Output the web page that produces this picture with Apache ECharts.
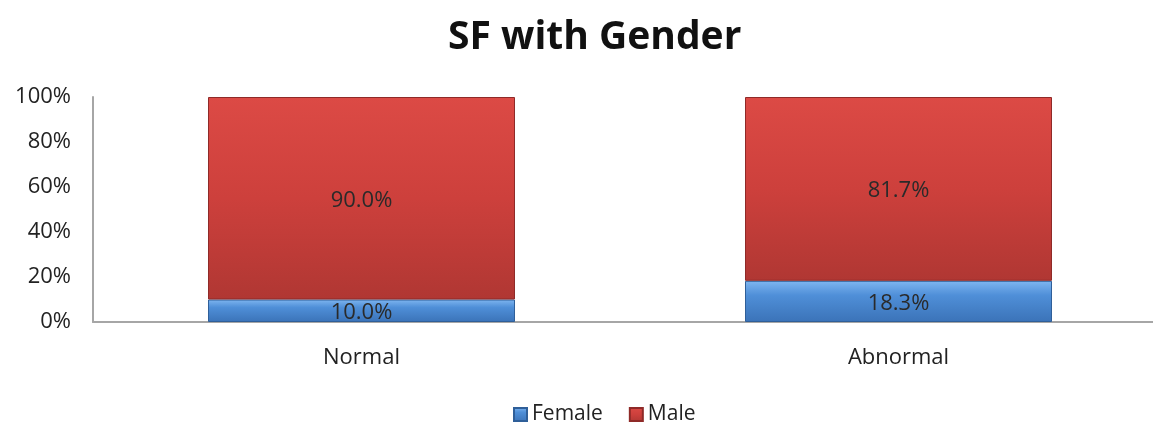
<!DOCTYPE html>
<html>
<head>
<meta charset="utf-8">
<script src="https://cdn.jsdelivr.net/npm/echarts@6/dist/echarts.min.js"></script>
<style>
  html, body { margin: 0; padding: 0; background: #fff; overflow: hidden; }
  /* 原图右侧被裁掉一截：画布比窗口宽一些 */
  #chart { width: 1167px; height: 423px; }
</style>
</head>
<body>
<div id="chart"></div>
<script>
// 数据
const categories = ["Normal", "Abnormal"];
const femaleValues = [10.0, 18.3];
const maleValues = [90.0, 81.7];
const yTicks = [0, 20, 40, 60, 80, 100];

const FONT = "'Open Sans', 'Noto Sans', sans-serif";

const chart = echarts.init(document.getElementById("chart"));

// 模拟 Excel 的立体斜面效果
const blueFill = new echarts.graphic.LinearGradient(0, 0, 0, 1, [
  { offset: 0, color: "#7fb6f0" },
  { offset: 0.35, color: "#4f8fd8" },
  { offset: 1, color: "#3b73b8" },
]);
const redFill = new echarts.graphic.LinearGradient(0, 0, 0, 1, [
  { offset: 0, color: "#dc4a45" },
  { offset: 0.5, color: "#cd403c" },
  { offset: 1, color: "#b03733" },
]);

const labelStyle = {
  show: true,
  position: "inside",
  color: "#2a2a2a",
  fontFamily: FONT,
  fontSize: 22,
  offset: [0, 2],
  formatter: (p) => p.value.toFixed(1) + "%",
};

chart.setOption({
  backgroundColor: "#fff",
  animation: false,
  title: {
    text: "SF with Gender",
    left: 443,
    top: 13,
    textStyle: { fontFamily: FONT, fontWeight: "bold", fontSize: 39, color: "#111" },
  },
  legend: {
    top: 399,
    left: 508,
    itemWidth: 13,
    itemHeight: 13,
    itemGap: 26,
    icon: "rect",
    textStyle: { fontFamily: FONT, fontSize: 21, color: "#222" },
    data: ["Female", "Male"],
  },
  grid: { left: 93, right: 0, top: 97, bottom: 101 },
  xAxis: {
    type: "category",
    data: categories,
    axisLine: { lineStyle: { color: "#a6a6a6", width: 2 } },
    axisTick: { show: false },
    axisLabel: { fontFamily: FONT, fontSize: 22, color: "#222", margin: 25 },
  },
  yAxis: {
    type: "value",
    min: yTicks[0],
    max: yTicks[yTicks.length - 1],
    interval: 20,
    splitLine: { show: false },
    axisLine: { show: true, lineStyle: { color: "#a6a6a6", width: 2 } },
    axisTick: { show: false },
    axisLabel: {
      fontFamily: FONT,
      fontSize: 22,
      color: "#222",
      margin: 22,
      formatter: (v) => v + "%",
    },
  },
  series: [
    {
      name: "Female",
      type: "bar",
      stack: "total",
      barWidth: 307,
      data: femaleValues,
      itemStyle: { color: blueFill, borderColor: "#2f5f99", borderWidth: 1 },
      label: labelStyle,
    },
    {
      name: "Male",
      type: "bar",
      stack: "total",
      barWidth: 307,
      data: maleValues,
      itemStyle: { color: redFill, borderColor: "#8f2a28", borderWidth: 1 },
      label: labelStyle,
    },
  ],
});
</script>
</body>
</html>
